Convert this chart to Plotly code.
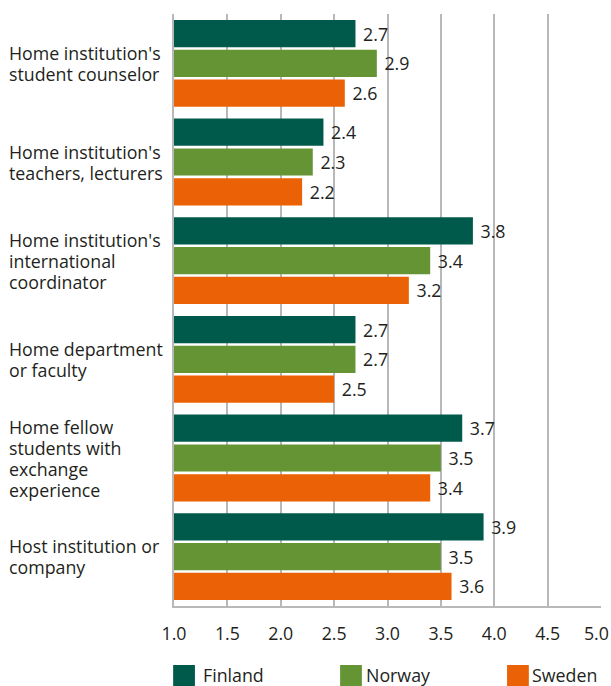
import plotly.graph_objects as go

categories = [
    "Home institution's<br>student counselor",
    "Home institution's<br>teachers, lecturers",
    "Home institution's<br>international<br>coordinator",
    "Home department<br>or faculty",
    "Home fellow<br>students with<br>exchange<br>experience",
    "Host institution or<br>company",
]
finland = [2.7, 2.4, 3.8, 2.7, 3.7, 3.9]
norway = [2.9, 2.3, 3.4, 2.7, 3.5, 3.5]
sweden = [2.6, 2.2, 3.2, 2.5, 3.4, 3.6]
series_names = ["Finland", "Norway", "Sweden"]
colors = ["#005a4b", "#659434", "#ea6205"]
x_ticks = [1.0, 1.5, 2.0, 2.5, 3.0, 3.5, 4.0, 4.5, 5.0]

FONT = "Open Sans"
TXT = "#231f20"
FS = 17.8
LINE_H = 21

fig = go.Figure()
for name, vals, col in zip(series_names, [finland, norway, sweden], colors):
    fig.add_trace(go.Bar(
        y=categories, x=vals, base=0, orientation="h", name=name,
        marker=dict(color=col, line=dict(width=0)),
        text=[f"\u00a0{v:.1f}" for v in vals], textposition="outside",
        textfont=dict(size=FS, color=TXT, family=FONT),
        cliponaxis=False, showlegend=False, hoverinfo="skip",
    ))

annotations = []
for c in categories:
    lines = c.split("<br>")
    n = len(lines)
    for i, ln in enumerate(lines):
        annotations.append(dict(
            x=-0.389, xref="paper", y=c, yref="y", text=ln, showarrow=False,
            xanchor="left", yanchor="middle", align="left",
            yshift=-(i - (n - 1) / 2) * LINE_H, borderpad=0,
            font=dict(size=FS, color=TXT, family=FONT),
        ))

shapes = []
sq_x = [-0.002, 0.389, 0.780]
txt_x = [0.066, 0.447, 0.835]
for i, (name, col) in enumerate(zip(series_names, colors)):
    x0 = sq_x[i]
    shapes.append(dict(type="rect", xref="paper", yref="paper",
                       x0=x0, x1=x0 + 0.051, y0=-0.0997, y1=-0.137,
                       fillcolor=col, line=dict(width=0)))
    annotations.append(dict(x=txt_x[i], xref="paper", y=-0.1166, yref="paper",
                            text=name, showarrow=False, xanchor="left", yanchor="middle",
                            borderpad=0,
                            font=dict(size=FS, color=TXT, family=FONT)))

tick_text = [f"{t:.1f}" for t in x_ticks]
tick_text[-1] = tick_text[-1] + "\u00a0\u00a0"

fig.update_layout(
    width=611, height=686,
    margin=dict(l=174, r=10, t=14, b=80, autoexpand=False),
    plot_bgcolor="white", paper_bgcolor="white",
    barmode="group", bargap=0.095, bargroupgap=0.085,
    font=dict(family=FONT, size=FS, color=TXT),
    xaxis=dict(range=[1.0, 5.0], tickvals=x_ticks, ticktext=tick_text,
               showgrid=True, gridcolor="#b8b8b8", gridwidth=1.5,
               showline=True, linecolor="#b8b8b8", linewidth=1.5,
               zeroline=False, ticks="", ticklabelstandoff=11,
               ticklabeloverflow="allow", automargin=False,
               tickfont=dict(size=FS, color=TXT, family=FONT)),
    yaxis=dict(autorange="reversed", showticklabels=False, showgrid=False,
               showline=True, linecolor="#b8b8b8", linewidth=1.5, ticks="",
               automargin=False),
    annotations=annotations, shapes=shapes, showlegend=False,
)

fig.write_html("out.html", config={"displayModeBar": False},
               post_script="document.body.style.margin='0';document.body.style.overflow='hidden';")
